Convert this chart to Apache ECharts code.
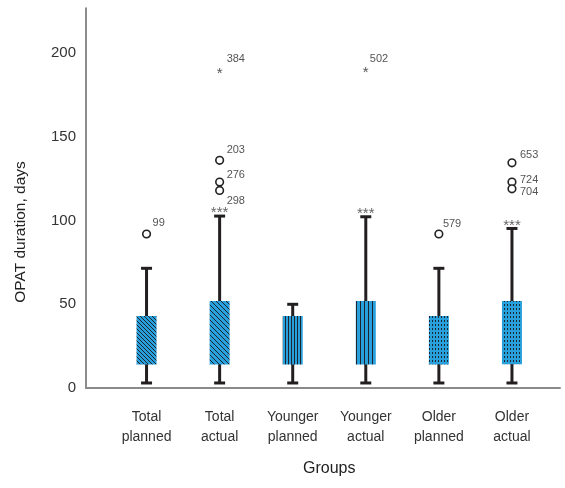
<!DOCTYPE html>
<html>
<head>
<meta charset="utf-8">
<script src="https://cdn.jsdelivr.net/npm/echarts@6/dist/echarts.min.js"></script>
<style>
  html, body { margin: 0; padding: 0; background: #fff; }
  #chart { width: 565px; height: 488px; }
</style>
</head>
<body>
<div id="chart"></div>
<script>
  // groups on the x axis
  var categories = ['Total\nplanned', 'Total\nactual', 'Younger\nplanned', 'Younger\nactual', 'Older\nplanned', 'Older\nactual'];
  // box plot summary per group (days)
  var whiskerLow = [3, 3, 3, 3, 3, 3];
  var q1 = [14, 14, 14, 14, 14, 14.2];
  var q3 = [43, 52, 43, 52, 43, 52];
  var whiskerHigh = [71.5, 102.7, 50, 102.3, 71.5, 95.3];
  // significance marks (***) above these groups
  var sigMark = [false, true, false, true, false, true];
  // outliers (circles)
  var outCat = [0, 1, 1, 1, 4, 5, 5, 5];
  var outVal = [92, 136, 123, 118, 92, 134.5, 123, 119];
  var outId = ['99', '203', '276', '298', '579', '653', '724', '704'];
  // extreme values (stars)
  var extCat = [1, 3];
  var extVal = [190.3, 190.9];
  var extId = ['384', '502'];
  var yTicks = [0, 50, 100, 150, 200];

  // label nudges so case numbers don't overlap
  var labelShift = {
    '99': [6, -11], '203': [7, -10], '276': [7, -7], '298': [7, 11],
    '579': [4, -10], '653': [8, -8], '724': [8, -2], '704': [8, 3],
    '384': [7, -10], '502': [4, -9]
  };

  var FONT = '"Liberation Sans", "DejaVu Sans", sans-serif';
  var BLUE = '#27a0dc';
  var INK = '#1c2430';

  function makePattern(kind) {
    var c = document.createElement('canvas');
    var ctx;
    if (kind == 'diag') {
      c.width = 4; c.height = 4;
      ctx = c.getContext('2d');
      ctx.fillStyle = BLUE; ctx.fillRect(0, 0, 4, 4);
      ctx.fillStyle = INK;
      for (var i = 0; i < 4; i++) ctx.fillRect(i, i, 1, 1);
    } else if (kind == 'diag2') {
      c.width = 5; c.height = 5;
      ctx = c.getContext('2d');
      ctx.fillStyle = BLUE; ctx.fillRect(0, 0, 5, 5);
      ctx.fillStyle = INK;
      for (var j = 0; j < 5; j++) ctx.fillRect(j, j, 1, 1);
    } else if (kind == 'vert') {
      c.width = 3; c.height = 1;
      ctx = c.getContext('2d');
      ctx.fillStyle = BLUE; ctx.fillRect(0, 0, 3, 1);
      ctx.fillStyle = INK; ctx.fillRect(0, 0, 1, 1);
    } else if (kind == 'vert2') {
      c.width = 4; c.height = 1;
      ctx = c.getContext('2d');
      ctx.fillStyle = BLUE; ctx.fillRect(0, 0, 4, 1);
      ctx.fillStyle = INK; ctx.fillRect(0, 0, 1, 1);
    } else {
      c.width = 3; c.height = 4;
      ctx = c.getContext('2d');
      ctx.fillStyle = BLUE; ctx.fillRect(0, 0, 3, 4);
      ctx.fillStyle = INK; ctx.fillRect(0, 0, 1, 2);
    }
    return c;
  }
  var patterns = [makePattern('diag'), makePattern('diag2'), makePattern('vert'),
                  makePattern('vert2'), makePattern('dots'), makePattern('dots')];

  var boxData = [];
  for (var k = 0; k < categories.length; k++) {
    boxData.push([k, whiskerLow[k], q1[k], q3[k], whiskerHigh[k], sigMark[k] ? 1 : 0]);
  }
  var outData = [];
  for (var m = 0; m < outCat.length; m++) outData.push([outCat[m], outVal[m], outId[m]]);
  var extData = [];
  for (var n = 0; n < extCat.length; n++) extData.push([extCat[n], extVal[n], extId[n]]);

  function font(size) {
    return size + 'px ' + FONT;
  }

  function renderBox(params, api) {
    var i = api.value(0);
    var lo = api.coord([i, api.value(1)]);
    var b1 = api.coord([i, api.value(2)]);
    var b3 = api.coord([i, api.value(3)]);
    var hi = api.coord([i, api.value(4)]);
    var x = lo[0];
    var line = { stroke: '#231f20', lineWidth: 3 };
    var kids = [
      { type: 'line', shape: { x1: x, y1: lo[1], x2: x, y2: hi[1] }, style: line },
      { type: 'line', shape: { x1: x - 5.5, y1: lo[1], x2: x + 5.5, y2: lo[1] }, style: line },
      { type: 'line', shape: { x1: x - 5.5, y1: hi[1], x2: x + 5.5, y2: hi[1] }, style: line },
      { type: 'rect', shape: { x: x - 10, y: b3[1], width: 20, height: b1[1] - b3[1] },
        style: { fill: { image: patterns[i], repeat: 'repeat' } } }
    ];
    if (api.value(5) == 1) {
      kids.push({ type: 'text', x: x, y: hi[1] - 3,
        style: { text: '***', font: font(15), fill: '#666', align: 'center', verticalAlign: 'middle' } });
    }
    return { type: 'group', children: kids };
  }

  function renderOut(params, api) {
    var p = api.coord([api.value(0), api.value(1)]);
    var id = outId[params.dataIndex];
    var s = labelShift[id];
    return { type: 'group', children: [
      { type: 'circle', shape: { cx: p[0], cy: p[1], r: 3.8 }, style: { fill: '#fff', stroke: '#222', lineWidth: 1.6 } },
      { type: 'text', x: p[0] + s[0], y: p[1] + s[1],
        style: { text: id, font: font(11), fill: '#555', align: 'left', verticalAlign: 'middle' } }
    ]};
  }

  function renderExt(params, api) {
    var p = api.coord([api.value(0), api.value(1)]);
    var id = extId[params.dataIndex];
    var s = labelShift[id];
    return { type: 'group', children: [
      { type: 'text', x: p[0], y: p[1] + 4,
        style: { text: '*', font: font(15), fill: '#555', align: 'center', verticalAlign: 'middle' } },
      { type: 'text', x: p[0] + s[0], y: p[1] + s[1],
        style: { text: id, font: font(11), fill: '#555', align: 'left', verticalAlign: 'middle' } }
    ]};
  }

  var chart = echarts.init(document.getElementById('chart'));
  chart.setOption({
    animation: false,
    backgroundColor: '#fff',
    grid: [
      { left: 86, right: 5, top: 8, bottom: 100 },
      { left: 110, right: 16.5, top: 8, bottom: 100 }
    ],
    xAxis: [
      { gridIndex: 0, type: 'value', min: 0, max: 1, show: true,
        axisLine: { show: true, lineStyle: { color: '#8a8a8a', width: 2 } },
        axisTick: { show: false }, axisLabel: { show: false }, splitLine: { show: false } },
      { gridIndex: 1, type: 'category', data: categories, boundaryGap: true,
        axisLine: { show: false }, axisTick: { show: false }, splitLine: { show: false },
        axisLabel: { interval: 0, margin: 19, fontSize: 14, lineHeight: 20, color: '#333', fontFamily: FONT },
        name: 'Groups', nameLocation: 'middle', nameGap: 73,
        nameTextStyle: { fontSize: 16, color: '#222', fontFamily: FONT } }
    ],
    yAxis: [
      { gridIndex: 0, type: 'value', min: 0, max: 227, interval: 50,
        axisLine: { show: true, lineStyle: { color: '#666', width: 1.5 } },
        axisTick: { show: false }, splitLine: { show: false },
        axisLabel: { margin: 10, fontSize: 15, color: '#333', fontFamily: FONT, customValues: yTicks } },
      { gridIndex: 1, type: 'value', min: 0, max: 227, show: false }
    ],
    graphic: [
      { type: 'text', x: 21, y: 232, rotation: Math.PI / 2,
        style: { text: 'OPAT duration, days', font: font(15.5), fill: '#222',
          align: 'center', verticalAlign: 'middle' } }
    ],
    series: [
      { type: 'custom', xAxisIndex: 1, yAxisIndex: 1, renderItem: renderBox, data: boxData },
      { type: 'custom', xAxisIndex: 1, yAxisIndex: 1, renderItem: renderOut, data: outData },
      { type: 'custom', xAxisIndex: 1, yAxisIndex: 1, renderItem: renderExt, data: extData }
    ]
  });
</script>
</body>
</html>
